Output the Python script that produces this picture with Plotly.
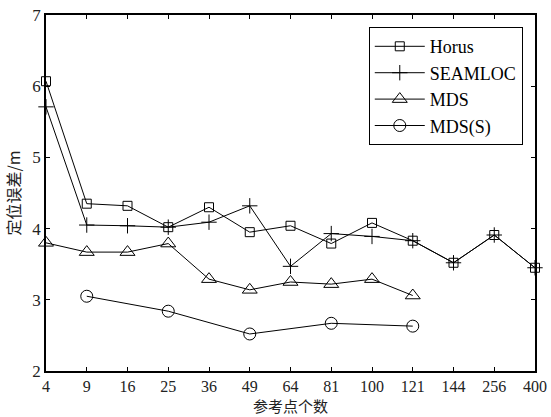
import plotly.graph_objects as go

# Number of reference points (categorical axis)
ref_points = ["4", "9", "16", "25", "36", "49", "64", "81", "100", "121", "144", "256", "400"]

# Positioning error (m) for each method
horus = [6.07, 4.35, 4.32, 4.02, 4.30, 3.95, 4.04, 3.79, 4.08, 3.83, 3.52, 3.91, 3.45]
seamloc = [5.71, 4.05, 4.04, 4.02, 4.09, 4.32, 3.47, 3.93, 3.89, 3.83, 3.52, 3.91, 3.45]
mds = [3.80, 3.67, 3.67, 3.79, 3.29, 3.14, 3.25, 3.22, 3.29, 3.06, None, None, None]
mds_s = [None, 3.05, None, 2.84, None, 2.52, None, 2.67, None, 2.63, None, None, None]

serif = "Liberation Serif, DejaVu Serif, serif"
cjk = "Noto Sans CJK SC, sans-serif"

series = [
    ("Horus", horus, "square-open", 9),
    ("SEAMLOC", seamloc, "cross-thin-open", 11),
    ("MDS", mds, "triangle-up-open", 13),
    ("MDS(S)", mds_s, "circle-open", 12),
]

fig = go.Figure()
for name, vals, sym, size in series:
    fig.add_trace(go.Scatter(
        x=ref_points, y=vals, name=name, mode="lines+markers",
        connectgaps=True, cliponaxis=False,
        line=dict(color="black", width=1),
        marker=dict(symbol=sym, size=size, color="black",
                    line=dict(color="black", width=1)),
    ))

axis_common = dict(
    showline=True, linecolor="black", linewidth=1.5, mirror="ticks",
    ticks="inside", ticklen=4, tickcolor="black", showgrid=False,
    zeroline=False, automargin=False,
)

fig.update_layout(
    width=551, height=417,
    margin=dict(l=46, r=16, t=15, b=46),
    paper_bgcolor="white", plot_bgcolor="white",
    xaxis=dict(type="category", range=[0, 12], ticklabelstandoff=0,
               tickfont=dict(family=serif, size=16, color="#222"), **axis_common),
    yaxis=dict(range=[2, 7], dtick=1,
               tickfont=dict(family=serif, size=17, color="#222"),
               title=dict(text="定位误差/m", font=dict(family=cjk, size=16, color="#222"), standoff=8),
               **axis_common),
    legend=dict(x=0.975, y=0.966, xanchor="right", yanchor="top",
                bordercolor="black", borderwidth=1, bgcolor="white",
                font=dict(family=serif, size=18, color="black"),
                itemwidth=50, tracegroupgap=0),
    showlegend=True,
    annotations=[dict(
        text="参考点个数", xref="paper", yref="paper", x=0.5, y=-47 / 356,
        xanchor="center", yanchor="bottom", showarrow=False,
        font=dict(family=cjk, size=15, color="#222"),
    )],
)

fig.write_html("out.html")
